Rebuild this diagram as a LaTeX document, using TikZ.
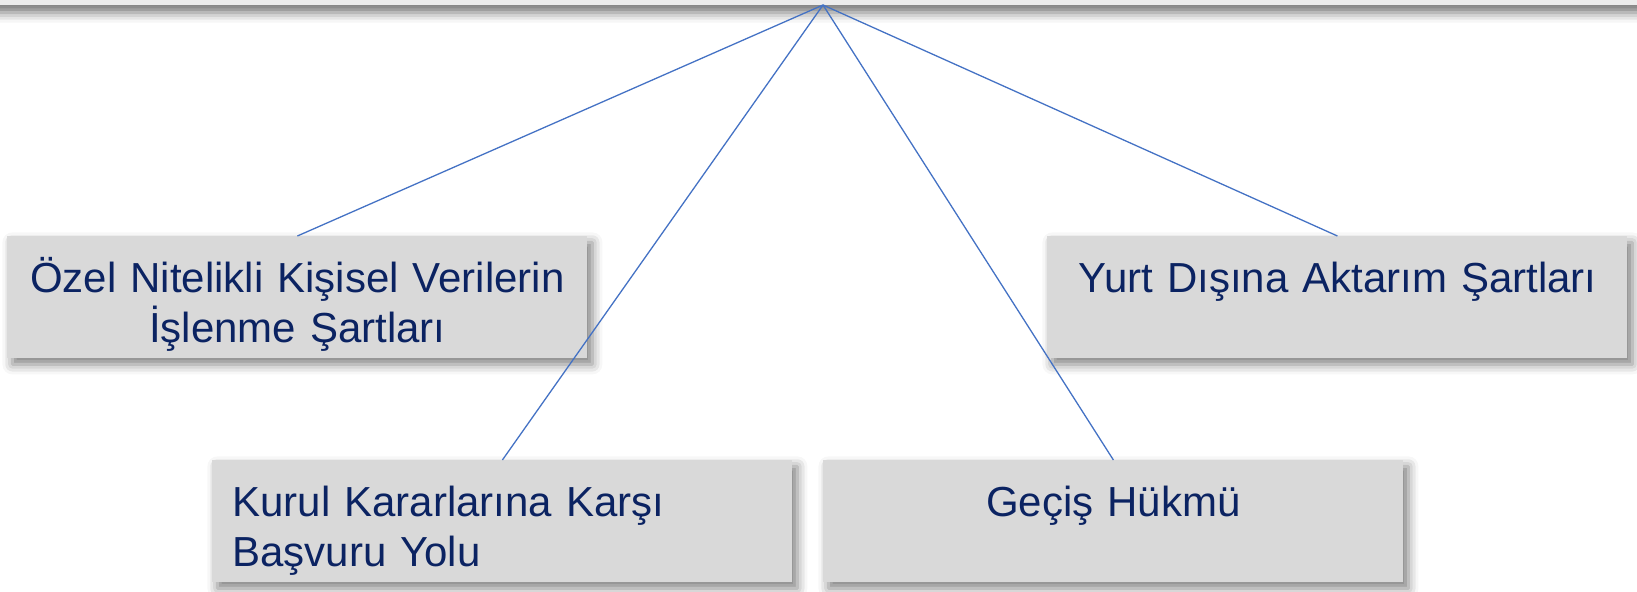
\documentclass[tikz,border=0pt]{standalone}
\usepackage{fontspec}
\setmainfont{Liberation Sans}
\usetikzlibrary{positioning,shadows.blur}
\definecolor{kutugri}{HTML}{D9D9D9}
\definecolor{ustgri}{HTML}{ECECEC}
\definecolor{yazimavi}{HTML}{0B2362}
\definecolor{cizgimavi}{HTML}{4472C4}
\tikzset{
  golge/.style={blur shadow={shadow xshift=2.5pt,shadow yshift=-3pt,shadow blur radius=5pt,shadow opacity=50}},
  kutu/.style={golge,fill=kutugri,inner sep=0pt,text width=290pt,align=center,
    text height=28pt,text depth=33pt,text=yazimavi,font=\fontsize{21}{25}\selectfont},
  solkutu/.style={kutu,inner xsep=10pt,text width=270pt,align=left},
  bag/.style={draw=cizgimavi,line width=0.65pt}
}
\begin{document}
\begin{tikzpicture}[x=0.5pt,y=-0.5pt]
\useasboundingbox (0,0) rectangle (1637,592);
% ust bant
\node[fill=ustgri,minimum width=900pt,minimum height=20pt,anchor=south,
  blur shadow={shadow xshift=0pt,shadow yshift=-4pt,shadow blur radius=5pt,shadow opacity=55}] (ust) at (823,5) {};
% kutular
\node[kutu,anchor=north west] (ozel) at (7,236) {Özel Nitelikli Kişisel Verilerin\\İşlenme Şartları};
\node[kutu,anchor=north west] (yurt) at (1047,236) {Yurt Dışına Aktarım Şartları};
\node[solkutu,anchor=north west] (kurul) at (212,460) {Kurul Kararlarına Karşı\\Başvuru Yolu};
\node[kutu,anchor=north west] (gecis) at (823,460) {Geçiş Hükmü};
% baglar
\draw[bag] (ust.south) -- (ozel.north);
\draw[bag] (ust.south) -- (yurt.north);
\draw[bag] (ust.south) -- (kurul.north);
\draw[bag] (ust.south) -- (gecis.north);
\end{tikzpicture}
\end{document}
